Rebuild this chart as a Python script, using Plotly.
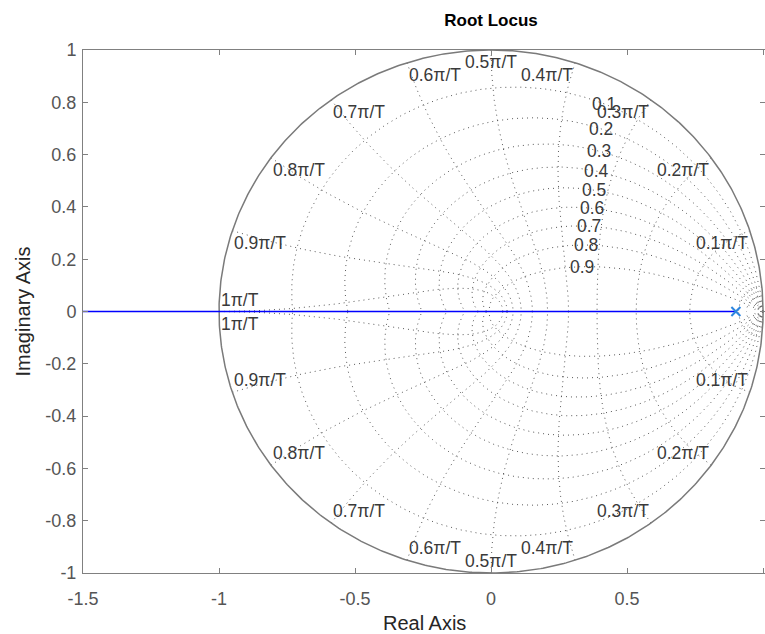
import numpy as np
import plotly.graph_objects as go

# ---- data ----
zeta_values = [0.1, 0.2, 0.3, 0.4, 0.5, 0.6, 0.7, 0.8, 0.9]
zeta_labels = ["0.1", "0.2", "0.3", "0.4", "0.5", "0.6", "0.7", "0.8", "0.9"]
wn_fractions = [0.1, 0.2, 0.3, 0.4, 0.5, 0.6, 0.7, 0.8, 0.9, 1.0]
wn_labels = ["0.1π/T", "0.2π/T", "0.3π/T", "0.4π/T", "0.5π/T",
             "0.6π/T", "0.7π/T", "0.8π/T", "0.9π/T", "1π/T"]
wn_small_fractions = [0.01, 0.02, 0.03]
pole_re = [0.9]
pole_im = [0.0]
locus_re = [-1.5, 0.9]
locus_im = [0.0, 0.0]
x_ticks = [-1.5, -1, -0.5, 0, 0.5, 1]
x_tick_text = ["-1.5", "-1", "-0.5", "0", "0.5", "1"]
y_ticks = [-1, -0.8, -0.6, -0.4, -0.2, 0, 0.2, 0.4, 0.6, 0.8, 1]
y_tick_text = ["-1", "-0.8", "-0.6", "-0.4", "-0.2", "0", "0.2", "0.4", "0.6", "0.8", "1"]

FONT = "Liberation Sans, Arial, sans-serif"
GRID = dict(color="rgba(60,60,60,0.85)", width=1, dash="1px,4px")
LABEL_FONT = dict(family=FONT, size=17.5, color="#3a3a3a")

fig = go.Figure()

def add_curve(z):
    fig.add_trace(go.Scatter(x=z.real, y=z.imag, mode="lines", line=GRID,
                             hoverinfo="skip", showlegend=False))
    fig.add_trace(go.Scatter(x=z.real, y=-z.imag, mode="lines", line=GRID,
                             hoverinfo="skip", showlegend=False))

# damping curves
theta = np.linspace(0, np.pi, 500)
annotations = []
for zeta, lab in zip(zeta_values, zeta_labels):
    k = zeta / np.sqrt(1 - zeta ** 2)
    z = np.exp(theta * (-k + 1j))
    add_curve(z)
    target = 0.42 - 0.1 * (zeta - 0.1)
    idx = int(np.argmax(z.real < target))
    annotations.append(dict(x=z.real[idx], y=z.imag[idx], text=lab, showarrow=False,
                            xanchor="center", yanchor="middle", font=LABEL_FONT))

# natural frequency curves
zg = np.linspace(0, 1, 300)
for f in wn_fractions + wn_small_fractions:
    wn = f * np.pi
    z = np.exp(wn * (-zg + 1j * np.sqrt(1 - zg ** 2)))
    add_curve(z)

for f, lab in zip(wn_fractions, wn_labels):
    phi = f * np.pi
    cx, cy = np.cos(phi), np.sin(phi)
    if f < 0.5:
        xa = "right"
    elif f == 0.5:
        xa = "center"
    else:
        xa = "left"
    if f == 1.0:
        ya_up, ya_dn = "bottom", "top"
    else:
        ya_up, ya_dn = "top", "bottom"
    for sgn, ya in ((1, ya_up), (-1, ya_dn)):
        annotations.append(dict(x=cx, y=sgn * cy, text=lab, showarrow=False,
                                xanchor=xa, yanchor=ya, font=LABEL_FONT))

# unit circle
t = np.linspace(0, 2 * np.pi, 721)
fig.add_trace(go.Scatter(x=np.cos(t), y=np.sin(t), mode="lines",
                         line=dict(color="#7a7a7a", width=1.5),
                         hoverinfo="skip", showlegend=False))

# root locus
fig.add_trace(go.Scatter(x=locus_re, y=locus_im, mode="lines",
                         line=dict(color="#0000ff", width=1.5),
                         showlegend=False))
fig.add_trace(go.Scatter(x=pole_re, y=pole_im, mode="markers",
                         marker=dict(symbol="x-thin", size=9,
                                     line=dict(color="#2e86de", width=2)),
                         showlegend=False))

# axis titles
annotations.append(dict(text="Real Axis", xref="paper", yref="paper", x=0.5, y=-50 / 523,
                        xanchor="center", yanchor="middle", showarrow=False,
                        font=dict(family=FONT, size=20, color="#262626")))
annotations.append(dict(text="Imaginary Axis", xref="paper", yref="paper", x=(22 - 83) / 682, y=0.5,
                        xanchor="center", yanchor="middle", textangle=-90, showarrow=False,
                        font=dict(family=FONT, size=20, color="#262626")))

axis_common = dict(showgrid=False, zeroline=False, showline=True, linecolor="#808080",
                   linewidth=1, ticks="inside", ticklen=5, tickcolor="#808080",
                   mirror="ticks", tickfont=dict(family=FONT, size=18, color="#555555"))

fig.update_layout(
    width=765, height=634,
    margin=dict(l=83, r=0, t=50, b=61),
    plot_bgcolor="white", paper_bgcolor="white",
    title=dict(text="<b>Root Locus</b>", x=491 / 765, xref="container",
               y=1 - 20 / 634, yref="container", xanchor="center", yanchor="middle",
               font=dict(family=FONT, size=17, color="#000000")),
    xaxis=dict(range=[-1.5, 1.007], tickvals=x_ticks, ticktext=x_tick_text,
               ticklabelstandoff=9, **axis_common),
    yaxis=dict(range=[-1, 1], tickvals=y_ticks, ticktext=y_tick_text,
               ticklabelstandoff=2, **axis_common),
    annotations=annotations,
    showlegend=False,
)

fig.write_html("out.html")
